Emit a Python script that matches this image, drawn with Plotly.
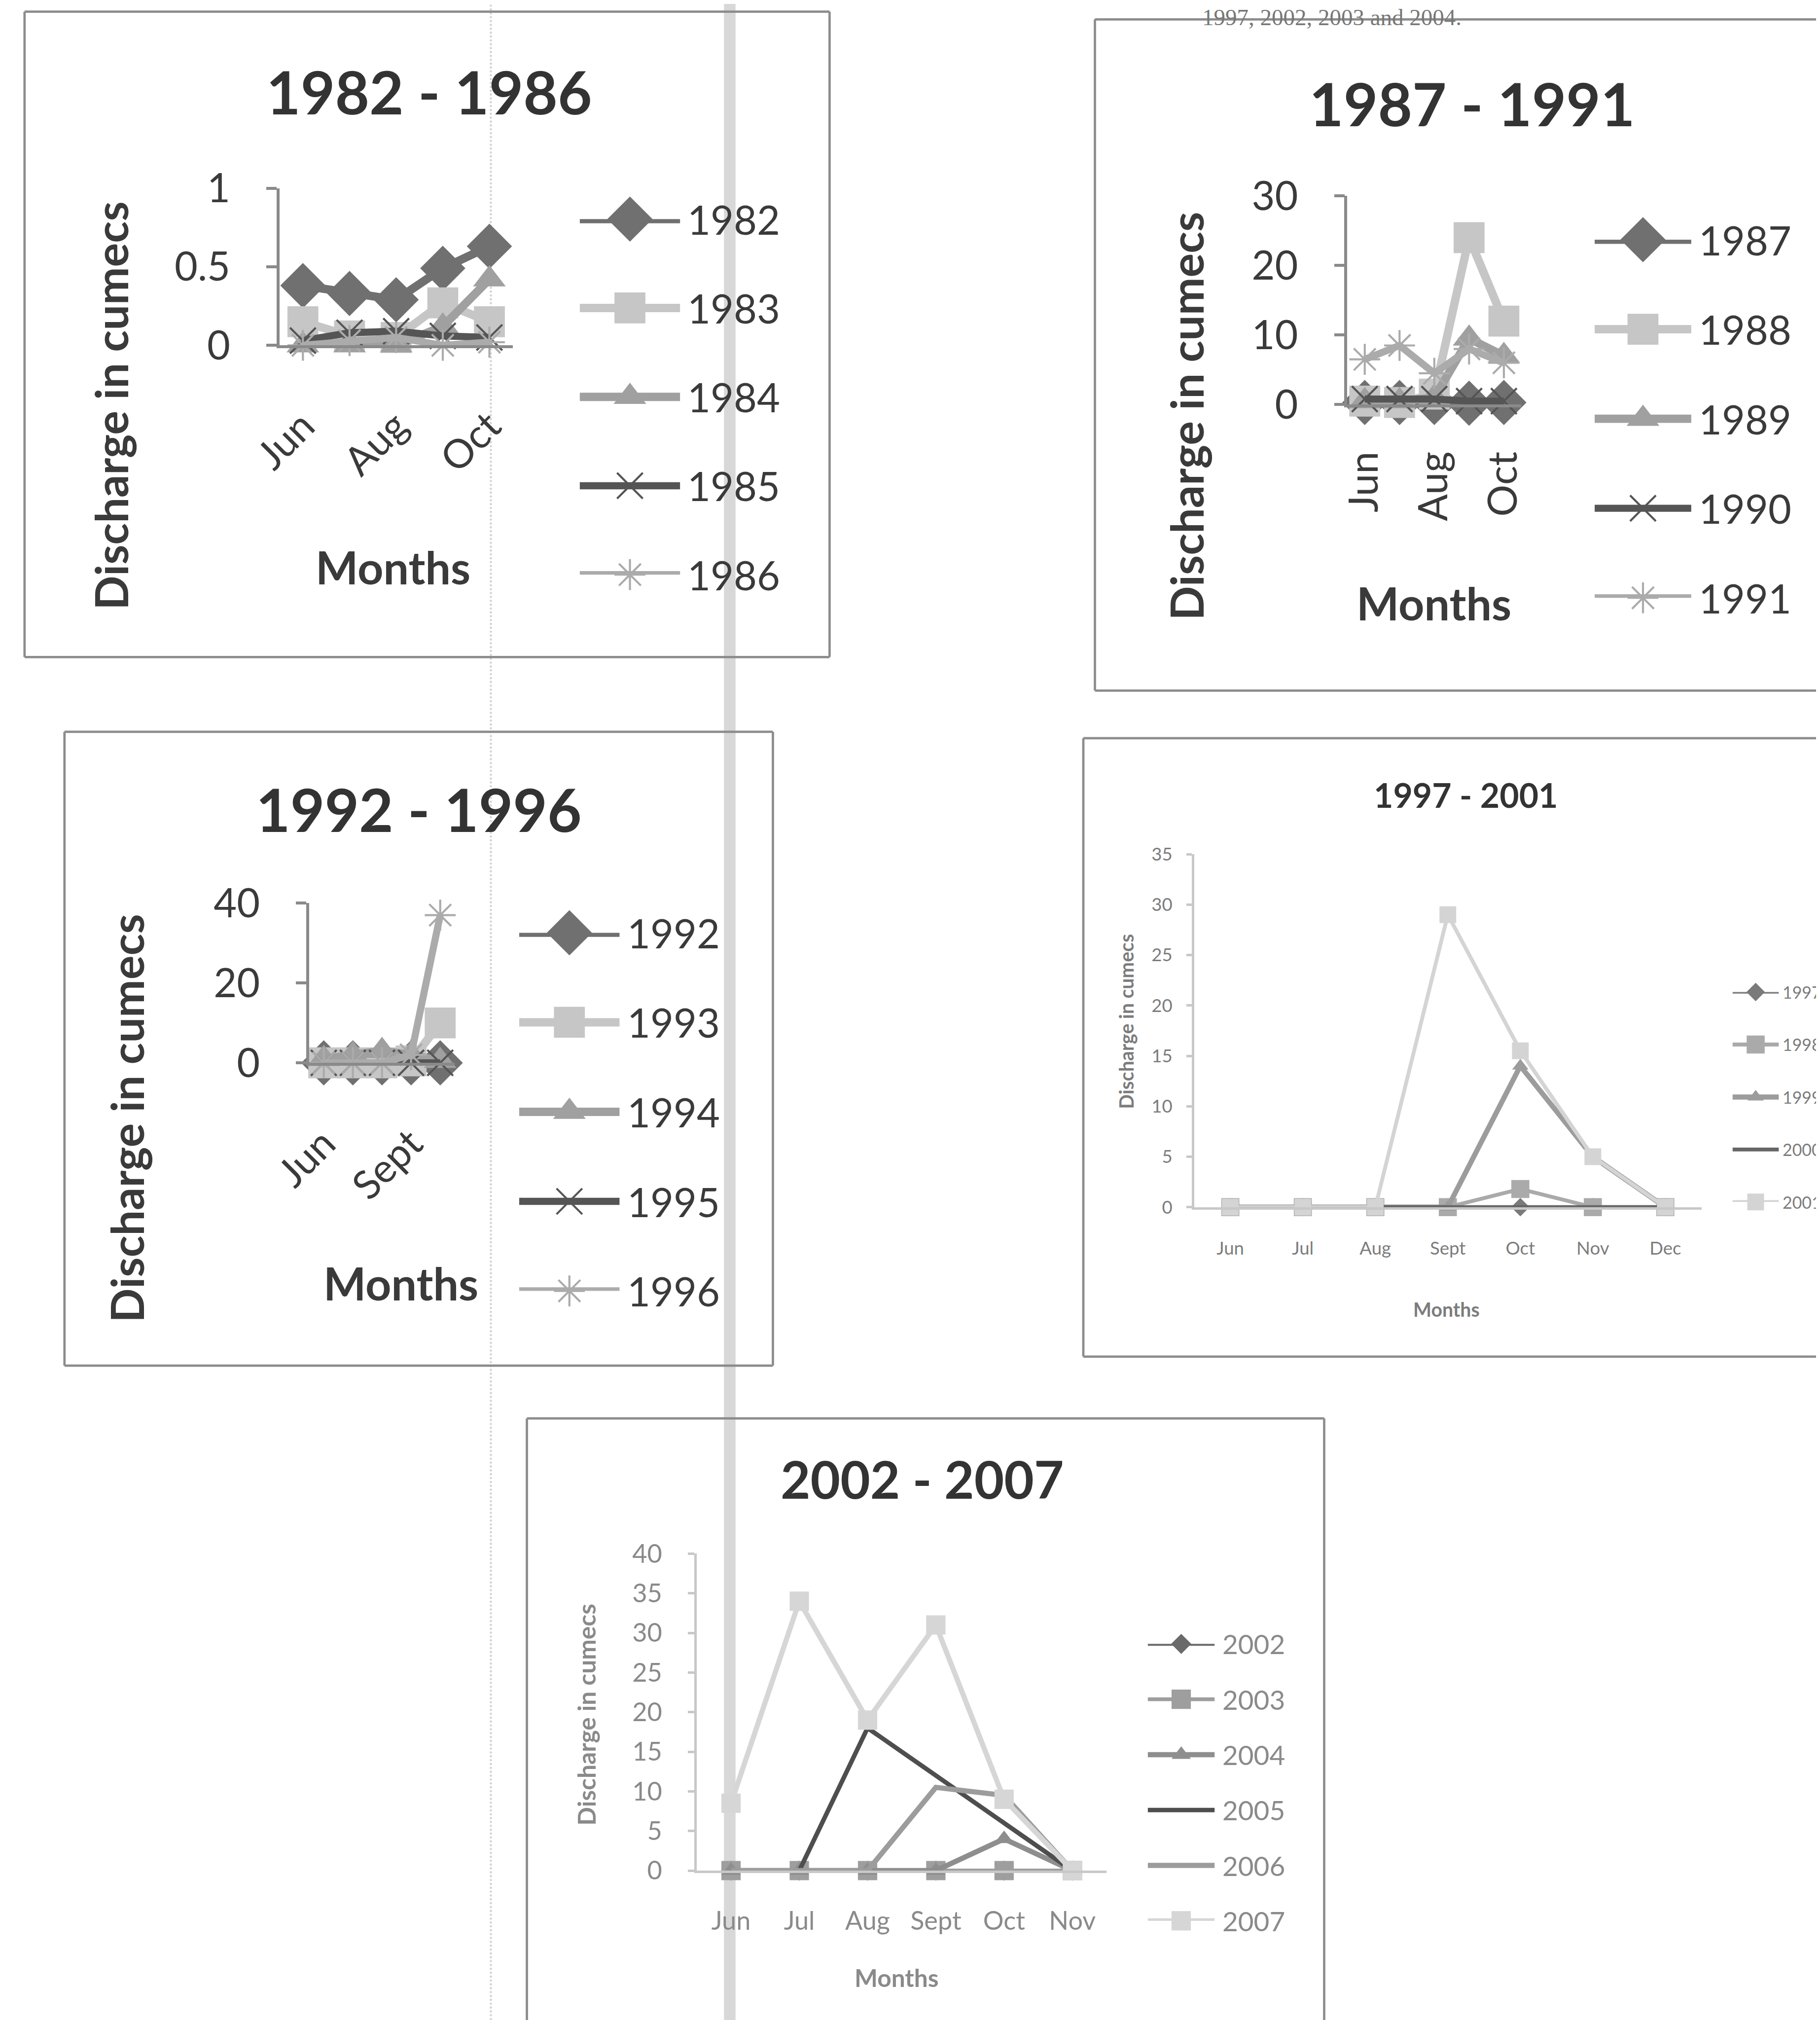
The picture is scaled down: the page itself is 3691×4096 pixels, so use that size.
import plotly.graph_objects as go

W, H = 3691, 4096
K = W / 1413.0          # reference-preview px -> output px


def S(v):
    return v * K


def fx(x):
    return min(max(x * K / W, 0.0), 1.0)


def fy(y):
    return min(max(1 - y * K / H, 0.0), 1.0)


# ---------------- data ----------------
months_a = ["Jun", "Jul", "Aug", "Sept", "Oct"]
months_d = ["Jun", "Jul", "Aug", "Sept", "Oct", "Nov", "Dec"]
months_e = ["Jun", "Jul", "Aug", "Sept", "Oct", "Nov"]

years_1 = ["1982", "1983", "1984", "1985", "1986"]
q1982 = [0.38, 0.33, 0.29, 0.49, 0.63]
q1983 = [0.15, 0.06, 0.05, 0.27, 0.15]
q1984 = [0.00, 0.00, 0.00, 0.12, 0.42]
q1985 = [0.03, 0.08, 0.09, 0.06, 0.05]
q1986 = [0.00, 0.03, 0.05, 0.00, 0.02]

years_2 = ["1987", "1988", "1989", "1990", "1991"]
q1987 = [0.3, 0.3, 0.3, 0.2, 0.3]
q1988 = [0.5, 0.3, 1.5, 24.0, 12.0]
q1989 = [0.5, 0.5, 1.0, 9.5, 7.0]
q1990 = [0.8, 0.8, 0.8, 0.5, 0.5]
q1991 = [6.5, 8.5, 4.5, 8.0, 6.0]

years_3 = ["1992", "1993", "1994", "1995", "1996"]
q1992 = [0, 0, 0, 0, 0]
q1993 = [0, 0, 0, 0.5, 10]
q1994 = [1.0, 2.0, 3.0, 2.0, 0.5]
q1995 = [0, 0, 0, 0, 0]
q1996 = [0, 0, 0, 2, 37]

years_4 = ["1997", "1998", "1999", "2000", "2001"]
q1997 = [0, 0, 0, 0, 0, 0, 0]
q1998 = [0, 0, 0, 0, 1.8, 0, 0]
q1999 = [0, 0, 0, 0, 14, 5, 0]
q2000 = [0, 0, 0, 0, 0, 0, 0]
q2001 = [0, 0, 0, 29, 15.5, 5, 0]

years_5 = ["2002", "2003", "2004", "2005", "2006", "2007"]
q2002 = [0, 0, 0, 0, 0, 0]
q2003 = [0, 0, 0, 0, 0, 0]
q2004 = [0, 0, 0, 0, 4, 0]
q2005 = [0, 0, 18, 12, 6, 0]
q2006 = [0, 0, 0, 10.5, 9.5, 0]
q2007 = [8.5, 34, 19, 31, 9, 0]

ticks_1 = [0, 0.5, 1]
ticks_2 = [0, 10, 20, 30]
ticks_3 = [0, 20, 40]
ticks_4 = [0, 5, 10, 15, 20, 25, 30, 35]
ticks_5 = [0, 5, 10, 15, 20, 25, 30, 35, 40]

FONT = "Lato"
DARK = "#3a3a3a"

# ---------------- panel configs (layout / style) ----------------
big_styles = [
    dict(color="#707070", symbol="diamond", ms=27, lw=6.5),
    dict(color="#c6c6c6", symbol="square", ms=24, lw=6.5),
    dict(color="#a0a0a0", symbol="triangle-up", ms=22, lw=6.5),
    dict(color="#555555", symbol="x-thin-open", ms=20, lw=5.5),
    dict(color="#ababab", symbol="asterisk-open", ms=20, lw=5.5),
]

# box edges: (x0, y0, x1, y1, drawn edges "LTRB")
panels = [
    dict(box=(16, 6, 641, 507, "LTRB"), title="1982 - 1986", tpos=(330, 68), tsize=46,
         plot=(214, 395, 143, 265), months=months_a, yr=[0, 1], yt=ticks_1,
         ytt=["0", "0.5", "1"], xt=["Jun", "Aug", "Oct"], angle=-45,
         ytitle=(83, 312), xtitle=(302, 437), asize=35, tick=31, ystand=22, xstand=30,
         leg=(447, 525, 530, 167, 443), lsize=31, names=years_1,
         series=[q1982, q1983, q1984, q1985, q1986], styles=big_styles,
         txt=DARK, axc="#8a8a8a", axw=2.2, ticklen=8),
    dict(box=(847, 12, 1413, 533, "LTB"), title="1987 - 1991", tpos=(1140, 77), tsize=46,
         plot=(1043, 1178, 149, 311), months=months_a, yr=[0, 30], yt=ticks_2,
         ytt=[str(v) for v in ticks_2], xt=["Jun", "Aug", "Oct"], angle=-90,
         ytitle=(918, 320), xtitle=(1110, 465), asize=35, tick=31, ystand=22, xstand=22,
         leg=(1235, 1310, 1315, 183, 461), lsize=31, names=years_2,
         series=[q1987, q1988, q1989, q1990, q1991], styles=big_styles,
         txt=DARK, axc="#8a8a8a", axw=2.2, ticklen=8),
    dict(box=(47, 565, 597, 1057, "LTRB"), title="1992 - 1996", tpos=(322, 625), tsize=46,
         plot=(237, 350, 698, 822), months=months_a, yr=[0, 40], yt=ticks_3,
         ytt=[str(v) for v in ticks_3], xt=["Jun", "Sept"], angle=-45,
         ytitle=(95, 865), xtitle=(308, 993), asize=35, tick=31, ystand=22, xstand=30,
         leg=(400, 478, 483, 721, 999), lsize=31, names=years_3,
         series=[q1992, q1993, q1994, q1995, q1996], styles=big_styles,
         txt=DARK, axc="#8a8a8a", axw=2.2, ticklen=8),
    dict(box=(838, 570, 1413, 1050, "LTB"), title="1997 - 2001", tpos=(1135, 614), tsize=26,
         plot=(924, 1318, 660, 934), months=months_d, yr=[0, 35], yt=ticks_4,
         ytt=[str(v) for v in ticks_4], xt=months_d, angle=0,
         ytitle=(871, 790), xtitle=(1120, 1013), asize=15, tick=14, ystand=8, xstand=18,
         leg=(1342, 1378, 1380, 767, 930), lsize=13, names=years_4,
         series=[q1997, q1998, q1999, q2000, q2001],
         styles=[
             dict(color="#7a7a7a", symbol="diamond", ms=11, lw=2.5),
             dict(color="#aaaaaa", symbol="square", ms=14, lw=3),
             dict(color="#9c9c9c", symbol="triangle-up", ms=11, lw=4),
             dict(color="#666666", symbol=None, ms=0, lw=3),
             dict(color="#d4d4d4", symbol="square", ms=13, lw=3),
         ],
         txt="#7c7c7c", axc="#c8c8c8", axw=2, ticklen=4),
    dict(box=(406, 1098, 1025, 1568, "LTR"), title="2002 - 2007", tpos=(713, 1145), tsize=40,
         plot=(538, 856, 1203, 1449), months=months_e, yr=[0, 40], yt=ticks_5,
         ytt=[str(v) for v in ticks_5], xt=months_e, angle=0,
         ytitle=(452, 1328), xtitle=(693, 1532), asize=19, tick=20, ystand=16, xstand=20,
         leg=(888, 940, 945, 1273, 1488), lsize=21, names=years_5,
         series=[q2002, q2003, q2004, q2005, q2006, q2007],
         styles=[
             dict(color="#6a6a6a", symbol="diamond", ms=12, lw=3),
             dict(color="#9e9e9e", symbol="square", ms=15, lw=3),
             dict(color="#8e8e8e", symbol="triangle-up", ms=13, lw=4),
             dict(color="#4e4e4e", symbol=None, ms=0, lw=3.5),
             dict(color="#9c9c9c", symbol=None, ms=0, lw=4),
             dict(color="#d6d6d6", symbol="square", ms=15, lw=4),
         ],
         txt="#8a8a8a", axc="#c8c8c8", axw=2, ticklen=5),
]

fig = go.Figure()
layout = dict(width=W, height=H, template="none",
              margin=dict(l=0, r=0, t=0, b=0, pad=0, autoexpand=False), autosize=False,
              paper_bgcolor="white", plot_bgcolor="rgba(0,0,0,0)", showlegend=False)
shapes = []
annotations = []


def akey(kind, num):
    return f"{kind}axis" if num == 1 else f"{kind}axis{num}"


def aref(kind, num):
    return kind if num == 1 else f"{kind}{num}"


def edge(x0, y0, x1, y1, color, width):
    shapes.append(dict(type="line", xref="paper", yref="paper",
                       x0=fx(x0), x1=fx(x1), y0=fy(y0), y1=fy(y1),
                       line=dict(color=color, width=width), layer="above"))


for n, P in enumerate(panels, start=1):
    a = 2 * n - 1
    b = 2 * n
    x0, x1, yt, yb = P["plot"]
    tc = P["txt"]
    # data axes
    layout[akey("x", a)] = dict(
        domain=[fx(x0), fx(x1)], anchor=aref("y", a), type="category",
        categoryorder="array", categoryarray=P["months"], automargin=False,
        range=[-0.5, len(P["months"]) - 0.5], showline=True, linecolor=P["axc"],
        linewidth=S(P["axw"]), ticks="", tickvals=P["xt"], ticktext=P["xt"],
        tickangle=P["angle"], tickfont=dict(family=FONT, size=S(P["tick"]), color=tc),
        ticklabelstandoff=int(round(S(P["xstand"]))), showgrid=False, zeroline=False,
        fixedrange=True)
    layout[akey("y", a)] = dict(
        domain=[fy(yb), fy(yt)], anchor=aref("x", a), range=P["yr"], automargin=False,
        tickvals=P["yt"], ticktext=P["ytt"], showline=True, linecolor=P["axc"],
        linewidth=S(P["axw"]), ticks="outside", ticklen=S(P["ticklen"]),
        tickwidth=S(P["axw"]), tickcolor=P["axc"],
        tickfont=dict(family=FONT, size=S(P["tick"]), color=tc),
        ticklabelstandoff=int(round(S(P["ystand"]))), showgrid=False, zeroline=False,
        fixedrange=True)
    # legend axes
    lx0, lx1, ltx, ly0, ly1 = P["leg"]
    nser = len(P["names"])
    layout[akey("x", b)] = dict(domain=[fx(lx0), fx(lx1)], anchor=aref("y", b),
                                range=[0, 1], visible=False, fixedrange=True,
                                automargin=False)
    layout[akey("y", b)] = dict(domain=[fy(ly1), fy(ly0)], anchor=aref("x", b),
                                range=[nser - 1, 0], visible=False, fixedrange=True,
                                automargin=False)

    for i, (name, vals, st) in enumerate(zip(P["names"], P["series"], P["styles"])):
        mk = dict(size=S(st["ms"]), color=st["color"],
                  line=dict(width=S(1.6) if st["symbol"] and "open" in st["symbol"] else 0,
                            color=st["color"]))
        mode = "lines+markers" if st["symbol"] else "lines"
        if st["symbol"]:
            mk["symbol"] = st["symbol"]
        fig.add_trace(go.Scatter(
            x=P["months"], y=vals, mode=mode, name=name,
            line=dict(color=st["color"], width=S(st["lw"])),
            marker=mk, xaxis=aref("x", a), yaxis=aref("y", a),
            cliponaxis=False, hoverinfo="skip"))
        # legend glyph
        fig.add_trace(go.Scatter(
            x=[0, 1], y=[i, i], mode="lines",
            line=dict(color=st["color"], width=S(st["lw"])),
            xaxis=aref("x", b), yaxis=aref("y", b), cliponaxis=False, hoverinfo="skip"))
        if st["symbol"]:
            fig.add_trace(go.Scatter(
                x=[0.5], y=[i], mode="markers", marker=mk,
                xaxis=aref("x", b), yaxis=aref("y", b), cliponaxis=False, hoverinfo="skip"))
        annotations.append(dict(
            text=name, xref="paper", yref=aref("y", b), x=fx(ltx), y=i,
            xanchor="left", yanchor="middle", showarrow=False,
            font=dict(family=FONT, size=S(P["lsize"]), color=tc)))

    # box (only the edges that lie inside the page)
    bx0, by0, bx1, by1, edges = P["box"]
    bc, bw = "#8c8c8c", S(1.8)
    if "L" in edges:
        edge(bx0, by0, bx0, by1, bc, bw)
    if "T" in edges:
        edge(bx0, by0, bx1, by0, bc, bw)
    if "R" in edges:
        edge(bx1, by0, bx1, by1, bc, bw)
    if "B" in edges:
        edge(bx0, by1, bx1, by1, bc, bw)
    # title, axis titles
    annotations.append(dict(text=f"<b>{P['title']}</b>", xref="paper", yref="paper",
                            x=fx(P["tpos"][0]), y=fy(P["tpos"][1]), showarrow=False,
                            xanchor="center", yanchor="middle",
                            font=dict(family=FONT, size=S(P["tsize"]), color="#333333")))
    annotations.append(dict(text="<b>Discharge in cumecs</b>", xref="paper", yref="paper",
                            x=fx(P["ytitle"][0]), y=fy(P["ytitle"][1]), textangle=-90,
                            showarrow=False, xanchor="center", yanchor="middle",
                            font=dict(family=FONT, size=S(P["asize"]), color=tc)))
    annotations.append(dict(text="<b>Months</b>", xref="paper", yref="paper",
                            x=fx(P["xtitle"][0]), y=fy(P["xtitle"][1]),
                            showarrow=False, xanchor="center", yanchor="middle",
                            font=dict(family=FONT, size=S(P["asize"]), color=tc)))

# scan artefacts: grey band, dotted fold line, text line at the very top
shapes.append(dict(type="rect", xref="paper", yref="paper", x0=fx(559), x1=fx(568),
                   y0=0, y1=1, fillcolor="#d8d8d8", line=dict(width=0), layer="below"))
shapes.append(dict(type="line", xref="paper", yref="paper", x0=fx(378), x1=fx(378),
                   y0=0, y1=1, line=dict(color="#d0d0d0", width=S(1.5), dash="dot"),
                   layer="below"))
annotations.append(dict(text="1997, 2002, 2003 and 2004.", xref="paper", yref="paper",
                        x=fx(1132), y=1, xanchor="right", yanchor="top",
                        showarrow=False, borderpad=0,
                        font=dict(family="Liberation Serif", size=S(18), color="#777777")))

layout["shapes"] = shapes
layout["annotations"] = annotations
fig.update_layout(**layout)
fig.write_html("out.html")
